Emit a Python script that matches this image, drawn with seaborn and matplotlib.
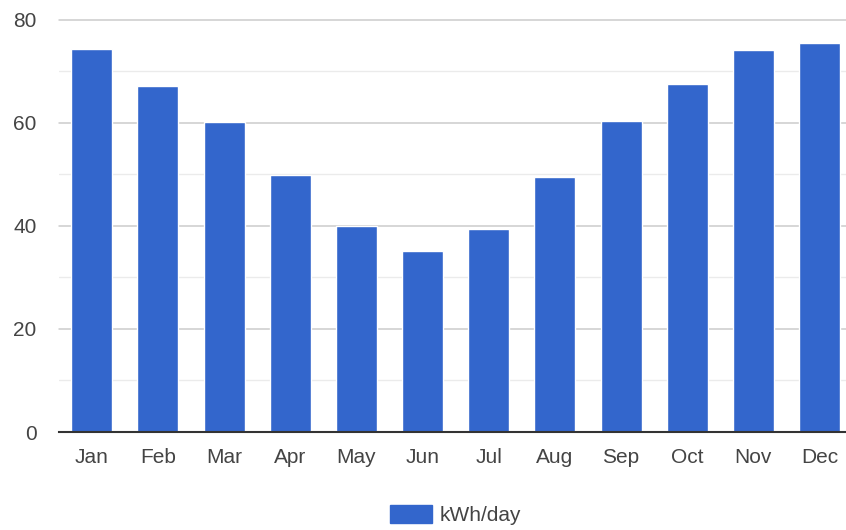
import matplotlib
matplotlib.use("Agg")
import matplotlib.pyplot as plt
from matplotlib.patches import Patch
from matplotlib.ticker import MultipleLocator
import pandas as pd
import seaborn as sns

# Average daily solar output per month
months = ["Jan", "Feb", "Mar", "Apr", "May", "Jun",
          "Jul", "Aug", "Sep", "Oct", "Nov", "Dec"]
kwh_per_day = [74.3, 67.1, 60.2, 49.8, 40.0, 35.1,
               39.4, 49.5, 60.4, 67.4, 74.0, 75.5]
series_name = "kWh/day"
y_ticks = [0, 20, 40, 60, 80]

df = pd.DataFrame({"month": months, "value": kwh_per_day})

sns.set_theme(style="white")
plt.rcParams["font.family"] = ["Liberation Sans", "DejaVu Sans"]

BAR = "#3366cc"
TEXT = "#444444"
FS = 15

fig = plt.figure(figsize=(8.46, 5.30), dpi=100)
ax = fig.add_axes([58.6 / 846, 1 - 432 / 530, 794 / 846, (432 - 19.5) / 530])

sns.barplot(data=df, x="month", y="value", color=BAR, saturation=1,
            width=0.62, ax=ax, zorder=3)

ax.set_ylim(0, 80)
ax.set_yticks(y_ticks)
ax.yaxis.set_minor_locator(MultipleLocator(10))
ax.grid(which="major", axis="y", color="#cccccc", linewidth=1.1, zorder=0)
ax.grid(which="minor", axis="y", color="#ebebeb", linewidth=1.0, zorder=0)
ax.set_axisbelow(True)
for line in ax.get_ygridlines():
    line.set_clip_on(False)

for side in ("top", "right", "left"):
    ax.spines[side].set_visible(False)
ax.spines["bottom"].set_color("#333333")
ax.spines["bottom"].set_linewidth(1.5)
ax.spines["bottom"].set_zorder(4)

ax.set_xlabel("")
ax.set_ylabel("")
ax.tick_params(axis="y", which="both", length=0, pad=16, labelsize=FS, labelcolor=TEXT)
ax.tick_params(axis="x", length=0, pad=11.5, labelsize=FS, labelcolor=TEXT)

fig.legend(handles=[Patch(facecolor=BAR, edgecolor=BAR, label=series_name)],
           loc="center", bbox_to_anchor=(455.7 / 846, 1 - 515 / 530),
           frameon=False, fontsize=FS, handlelength=2.0, handleheight=1.0,
           handletextpad=0.4, labelcolor=TEXT, borderpad=0, borderaxespad=0)

fig.savefig("out.png", dpi=100)
